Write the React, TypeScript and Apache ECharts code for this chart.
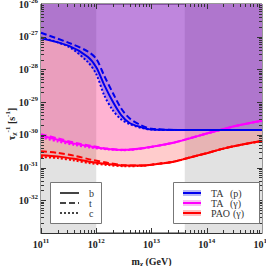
import React, { useEffect, useRef } from "react";
import * as echarts from "echarts";

// ---------- data ----------
// TA (p) — proton bound, mass grid (GeV)
const massP = [1e11, 3.2e11, 7e11, 1e12, 1.4e12, 2e12, 2.8e12, 4e12, 6.3e12, 1e13, 3.2e13, 1e14, 3.2e14, 1e15];
const taP_b = [8.9e-28, 5.25e-28, 2.45e-28, 1.17e-28, 3.3e-29, 1.02e-29, 4.1e-30, 2.3e-30, 1.74e-30, 1.45e-30, 1.41e-30, 1.41e-30, 1.41e-30, 1.41e-30];
const taP_t = [1.32e-27, 6.5e-28, 3.55e-28, 2.1e-28, 6.3e-29, 1.9e-29, 6.6e-30, 3.2e-30, 2.0e-30, 1.55e-30, 1.41e-30, 1.41e-30, 1.41e-30, 1.41e-30];
const taP_c = [9.5e-28, 4.9e-28, 1.7e-28, 7.2e-29, 1.6e-29, 5.6e-30, 3.0e-30, 2.15e-30, 1.66e-30, 1.45e-30, 1.41e-30, 1.41e-30, 1.41e-30, 1.41e-30];

// photon bounds, mass grid (GeV)
const massG = [1e11, 2e11, 4e11, 8e11, 1.6e12, 3.2e12, 6.3e12, 1.26e13, 2.5e13, 5e13, 1e14, 2e14, 4e14, 1e15];
const taG_b = [9.5e-31, 7.1e-31, 5.4e-31, 4.4e-31, 3.7e-31, 3.45e-31, 3.8e-31, 4.6e-31, 5.75e-31, 7.9e-31, 1.1e-30, 1.5e-30, 2.0e-30, 2.7e-30];
const taG_t = [1.05e-30, 7.8e-31, 5.8e-31, 4.6e-31, 3.8e-31, 3.5e-31, 3.8e-31, 4.6e-31, 5.75e-31, 7.9e-31, 1.1e-30, 1.5e-30, 2.0e-30, 2.7e-30];
const taG_c = [8.3e-31, 6.3e-31, 4.9e-31, 4.1e-31, 3.6e-31, 3.4e-31, 3.75e-31, 4.6e-31, 5.75e-31, 7.9e-31, 1.1e-30, 1.5e-30, 2.0e-30, 2.7e-30];

const paoG_b = [2.4e-31, 2.2e-31, 1.85e-31, 1.48e-31, 1.29e-31, 1.15e-31, 1.15e-31, 1.29e-31, 1.51e-31, 2.04e-31, 2.75e-31, 3.8e-31, 4.9e-31, 6.45e-31];
const paoG_t = [3.15e-31, 2.8e-31, 2.3e-31, 1.75e-31, 1.4e-31, 1.18e-31, 1.15e-31, 1.29e-31, 1.51e-31, 2.04e-31, 2.75e-31, 3.8e-31, 4.9e-31, 6.45e-31];
const paoG_c = [2.1e-31, 1.95e-31, 1.65e-31, 1.35e-31, 1.2e-31, 1.1e-31, 1.12e-31, 1.29e-31, 1.51e-31, 2.04e-31, 2.75e-31, 3.8e-31, 4.9e-31, 6.45e-31];

// shaded mass bands (GeV)
const grayBands = [[1e11, 1e12], [4e13, 1e15]];

// axes
const xMin = 1e11, xMax = 1e15;
const yMin = 1e-33, yMax = 1e-26;
const xDecades = [11, 12, 13, 14];
const yDecades = [-33, -32, -31, -30, -29, -28, -27];
const minorMult = [2, 3, 4, 5, 6, 7, 8, 9];

const FONT = "Liberation Serif";
const INK = "#222";

const zip = (xs: number[], ys: number[]) => xs.map((x, i) => [x, ys[i]]);

export default function App() {
  const ref = useRef<HTMLDivElement>(null);
  useEffect(() => {
    if (!ref.current) return;
    const chart = echarts.init(ref.current, null, { renderer: "svg" });

    const tickData: number[][] = [];
    for (const d of xDecades) {
      tickData.push([Math.pow(10, d), 1e-30, 0, 5]);
      for (const k of minorMult) tickData.push([k * Math.pow(10, d), 1e-30, 0, 3]);
    }
    for (const d of yDecades) {
      tickData.push([1e12, Math.pow(10, d), 1, 5]);
      for (const k of minorMult) tickData.push([1e12, k * Math.pow(10, d), 1, 3]);
    }

    const lineSeries = (name: string, xs: number[], ys: number[], color: string, type: any) => ({
      type: "line",
      name,
      data: zip(xs, ys),
      symbol: "none",
      smooth: 0.3,
      z: 4,
      lineStyle: { color, width: 2, type },
      silent: true,
    });
    // region above a curve up to the top of the plot, drawn through the axes' scales
    const fillSeries = (xs: number[], ys: number[], color: string) => ({
      type: "custom",
      data: [[xMin, yMax]],
      encode: { x: 0, y: 1 },
      silent: true,
      z: 2,
      renderItem: (_params: any, api: any) => {
        const pts = xs.map((x, i) => api.coord([x, ys[i]]));
        pts.push(api.coord([xMax, yMax]));
        pts.push(api.coord([xMin, yMax]));
        return { type: "polygon", shape: { points: pts }, style: { fill: color } };
      },
    });

    const richAxis = {
      b: { fontFamily: FONT, fontSize: 10, fontWeight: "bold", color: INK },
      s: { fontFamily: FONT, fontSize: 7, fontWeight: "bold", color: INK, padding: [0, 0, 7, 0] },
    };

    const option: any = {
      animation: false,
      grid: {
        left: 41, right: 4, top: 4, bottom: 33,
        containLabel: false,
        outerBoundsMode: "none",
        show: true, borderColor: "#333", borderWidth: 1, backgroundColor: "#fff",
      },
      xAxis: {
        type: "log",
        min: xMin,
        max: xMax,
        splitNumber: 4,
        axisLine: { lineStyle: { color: "#333" } },
        axisTick: { show: false },
        splitLine: { show: false },
        axisLabel: {
          margin: 4,
          formatter: (v: number) => `{b|10}{s|${Math.round(Math.log10(v))}}`,
          rich: richAxis,
        },
        name: "{b|m}{sub|χ}{b| (GeV)}",
        nameLocation: "middle",
        nameGap: 22,
        nameTextStyle: {
          rich: {
            b: { fontFamily: FONT, fontSize: 10, fontWeight: "bold", color: INK },
            sub: { fontFamily: FONT, fontSize: 7, fontWeight: "bold", color: INK, padding: [5, 0, 0, 0] },
          },
        },
      },
      yAxis: {
        type: "log",
        min: yMin,
        max: yMax,
        splitNumber: 7,
        axisLine: { lineStyle: { color: "#333" } },
        axisTick: { show: false },
        splitLine: { show: false },
        axisLabel: {
          margin: 3,
          formatter: (v: number) => `{b|10}{s|${Math.round(Math.log10(v))}}`,
          rich: richAxis,
        },
      },
      graphic: [
        {
          type: "text",
          x: 11,
          y: 124,
          rotation: Math.PI / 2,
          style: {
            text: "{b|τ}{sub|χ}{sup|-1}{b| [s}{sup|-1}{b|]}",
            align: "center",
            verticalAlign: "middle",
            rich: {
              b: { fontFamily: FONT, fontSize: 10, fontWeight: "bold", fill: INK },
              sub: { fontFamily: FONT, fontSize: 7, fontWeight: "bold", fill: INK, padding: [5, 0, 0, 0] },
              sup: { fontFamily: FONT, fontSize: 7, fontWeight: "bold", fill: INK, padding: [0, 0, 6, 0] },
            },
          },
          z: 10,
        },
        // legend 1: line styles
        { type: "rect", shape: { x: 50.5, y: 182.5, width: 51, height: 41 }, style: { fill: "#fff", stroke: "#777", lineWidth: 1 }, z: 20 },
        { type: "line", shape: { x1: 60, y1: 193, x2: 79, y2: 193 }, style: { stroke: "#444", lineWidth: 2 }, z: 21 },
        { type: "line", shape: { x1: 60, y1: 203, x2: 79, y2: 203 }, style: { stroke: "#444", lineWidth: 2, lineDash: [6, 3] }, z: 21 },
        { type: "line", shape: { x1: 60, y1: 213, x2: 79, y2: 213 }, style: { stroke: "#444", lineWidth: 2, lineDash: [2, 2] }, z: 21 },
        { type: "text", x: 89, y: 193, style: { text: "b", font: `10px ${FONT}`, fill: "#333", verticalAlign: "middle" }, z: 21 },
        { type: "text", x: 89, y: 203, style: { text: "t", font: `10px ${FONT}`, fill: "#333", verticalAlign: "middle" }, z: 21 },
        { type: "text", x: 89, y: 213, style: { text: "c", font: `10px ${FONT}`, fill: "#333", verticalAlign: "middle" }, z: 21 },
        // legend 2: experiments
        { type: "rect", shape: { x: 173.5, y: 182.5, width: 86, height: 41 }, style: { fill: "#fff", stroke: "#777", lineWidth: 1 }, z: 20 },
        { type: "line", shape: { x1: 183, y1: 193, x2: 201, y2: 193 }, style: { stroke: "#B8B8F4", lineWidth: 6 }, z: 21 },
        { type: "line", shape: { x1: 183, y1: 193, x2: 201, y2: 193 }, style: { stroke: "#0000EE", lineWidth: 2 }, z: 22 },
        { type: "line", shape: { x1: 183, y1: 203, x2: 201, y2: 203 }, style: { stroke: "#F8C0F2", lineWidth: 6 }, z: 21 },
        { type: "line", shape: { x1: 183, y1: 203, x2: 201, y2: 203 }, style: { stroke: "#FF00FF", lineWidth: 2 }, z: 22 },
        { type: "line", shape: { x1: 183, y1: 213, x2: 201, y2: 213 }, style: { stroke: "#FFC0C0", lineWidth: 6 }, z: 21 },
        { type: "line", shape: { x1: 183, y1: 213, x2: 201, y2: 213 }, style: { stroke: "#FF0000", lineWidth: 2 }, z: 22 },
        { type: "text", x: 211, y: 193, style: { text: "TA", font: `10px ${FONT}`, fill: "#333", verticalAlign: "middle" }, z: 21 },
        { type: "text", x: 230, y: 193, style: { text: "(p)", font: `10px ${FONT}`, fill: "#333", verticalAlign: "middle" }, z: 21 },
        { type: "text", x: 211, y: 203, style: { text: "TA", font: `10px ${FONT}`, fill: "#333", verticalAlign: "middle" }, z: 21 },
        { type: "text", x: 230, y: 203, style: { text: "(γ)", font: `10px ${FONT}`, fill: "#333", verticalAlign: "middle" }, z: 21 },
        { type: "text", x: 211, y: 213, style: { text: "PAO", font: `10px ${FONT}`, fill: "#333", verticalAlign: "middle" }, z: 21 },
        { type: "text", x: 233, y: 213, style: { text: "(γ)", font: `10px ${FONT}`, fill: "#333", verticalAlign: "middle" }, z: 21 },
      ],
      series: [
        {
          type: "custom",
          data: grayBands,
          encode: { x: [0, 1] },
          silent: true,
          z: 1,
          renderItem: (_params: any, api: any) => {
            const p1 = api.coord([api.value(0), yMax]);
            const p2 = api.coord([api.value(1), yMin]);
            return { type: "rect", shape: { x: p1[0], y: p1[1], width: p2[0] - p1[0], height: p2[1] - p1[1] }, style: { fill: "#E2E2E2" } };
          },
        },
        fillSeries(massG, paoG_c, "rgba(255,0,0,0.2)"),
        fillSeries(massG, taG_c, "rgba(255,0,255,0.12)"),
        fillSeries(massP, taP_c, "rgba(0,0,255,0.25)"),
        lineSeries("PAO b", massG, paoG_b, "#FF0000", "solid"),
        lineSeries("PAO t", massG, paoG_t, "#FF0000", [6, 3]),
        lineSeries("PAO c", massG, paoG_c, "#FF0000", [2, 2]),
        lineSeries("TAg b", massG, taG_b, "#FF00FF", "solid"),
        lineSeries("TAg t", massG, taG_t, "#FF00FF", [6, 3]),
        lineSeries("TAg c", massG, taG_c, "#FF00FF", [2, 2]),
        lineSeries("TAp b", massP, taP_b, "#0000EE", "solid"),
        lineSeries("TAp t", massP, taP_t, "#0000EE", [6, 3]),
        lineSeries("TAp c", massP, taP_c, "#0000EE", [2, 2]),
        {
          type: "custom",
          data: tickData,
          encode: { x: 0, y: 1 },
          clip: false,
          silent: true,
          z: 6,
          renderItem: (params: any, api: any) => {
            const cs = params.coordSys;
            const kind = api.value(2);
            const len = api.value(3);
            const style = { stroke: "#333", lineWidth: 1 };
            if (kind === 0) {
              const px = Math.round(api.coord([api.value(0), 1e-30])[0]) + 0.5;
              return {
                type: "group",
                children: [
                  { type: "line", shape: { x1: px, y1: cs.y + cs.height, x2: px, y2: cs.y + cs.height - len }, style },
                  { type: "line", shape: { x1: px, y1: cs.y, x2: px, y2: cs.y + len }, style },
                ],
              };
            }
            const py = Math.round(api.coord([1e12, api.value(1)])[1]) + 0.5;
            return {
              type: "group",
              children: [
                { type: "line", shape: { x1: cs.x, y1: py, x2: cs.x + len, y2: py }, style },
                { type: "line", shape: { x1: cs.x + cs.width, y1: py, x2: cs.x + cs.width - len, y2: py }, style },
              ],
            };
          },
        },
      ],
    };
    chart.setOption(option);
    return () => chart.dispose();
  }, []);
  return <div ref={ref} style={{ position: "absolute", left: 0, top: 0, width: 266, height: 266 }} />;
}
